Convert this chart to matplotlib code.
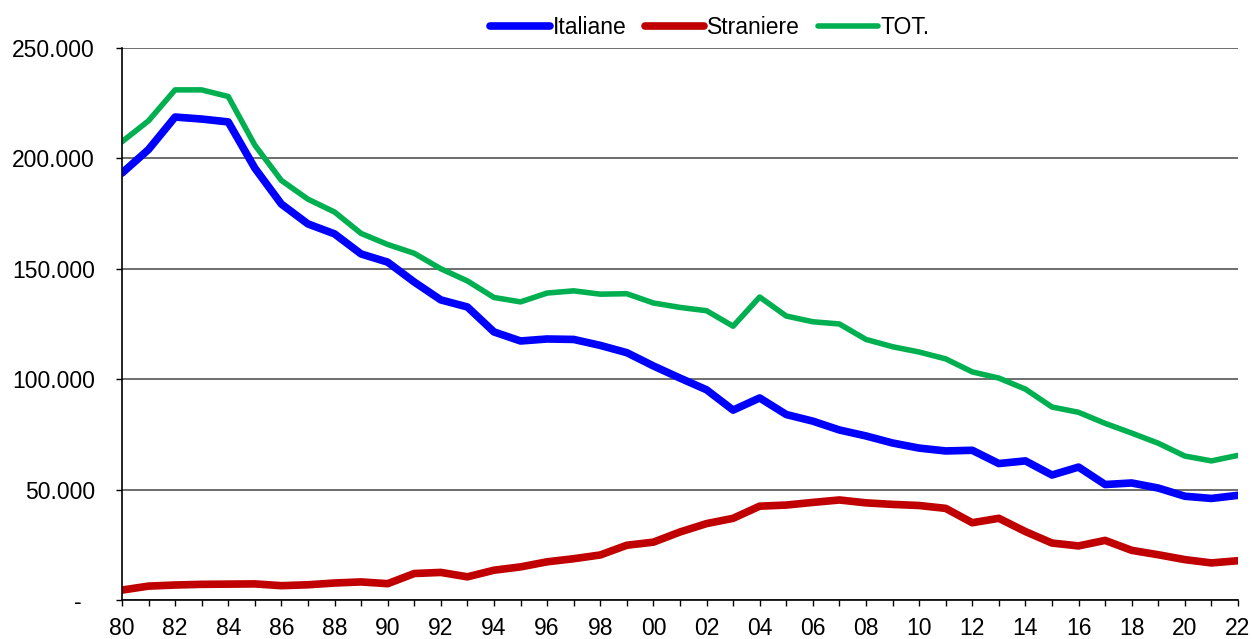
import matplotlib
matplotlib.use("Agg")
import matplotlib.pyplot as plt
from matplotlib.ticker import FuncFormatter, MultipleLocator

# years 1980..2022
years = list(range(1980, 2023))

italiane = [193300, 204000, 218700, 217800, 216500, 195600, 179300, 170300, 165800, 156700,
            153000, 144000, 135900, 132700, 121400, 117300, 118200, 118000, 115300, 112000,
            106000, 100500, 95200, 86000, 91500, 84000, 81000, 77000, 74300, 71100,
            68800, 67500, 67800, 61800, 63000, 56600, 60200, 52300, 53000, 50700,
            47000, 46000, 47400]

straniere = [4500, 6300, 6800, 7100, 7200, 7300, 6500, 6900, 7700, 8200,
             7400, 12000, 12500, 10500, 13500, 15000, 17300, 18700, 20400, 24800,
             26200, 30800, 34600, 37000, 42500, 43000, 44200, 45300, 44000, 43300,
             42800, 41500, 35000, 37000, 31000, 25800, 24500, 27000, 22500, 20500,
             18300, 16800, 17800]

totale = [207500, 217000, 231000, 231000, 228000, 206000, 190000, 181500, 175700, 166000,
          161000, 157000, 150000, 144500, 137000, 135000, 139000, 140000, 138500, 138700,
          134500, 132500, 131000, 124000, 137200, 128600, 126000, 125000, 118000, 114700,
          112300, 109200, 103300, 100500, 95500, 87400, 85000, 80000, 75600, 71000,
          65200, 63000, 65500]

plt.rcParams['font.family'] = ['Liberation Sans', 'DejaVu Sans']

fig = plt.figure(figsize=(12.52, 6.39), dpi=100, facecolor='white')
ax = fig.add_axes([0.0974, 0.061, 0.8914, 0.864])

ax.plot(years, italiane, color='#0000FF', linewidth=5.5, label='Italiane', solid_capstyle='round')
ax.plot(years, straniere, color='#C00000', linewidth=5.5, label='Straniere', solid_capstyle='round')
ax.plot(years, totale, color='#00B050', linewidth=4, label='TOT.', solid_capstyle='round')

ax.set_xlim(1980, 2022)
ax.set_ylim(0, 250000)

# y axis, Excel-style: dot as thousands separator, "-" for zero
ax.yaxis.set_major_locator(MultipleLocator(50000))
def fmt_y(v, pos):
    if v == 0:
        return '-  '
    return f'{int(v):,}'.replace(',', '.')
ax.yaxis.set_major_formatter(FuncFormatter(fmt_y))
ax.yaxis.grid(True, color='#555555', linewidth=1.2)
ax.set_axisbelow(True)

# x axis: ticks every year, labels every two years
ax.set_xticks(years)
ax.set_xticklabels([f'{y % 100:02d}' if y % 2 == 0 else '' for y in years])

ax.tick_params(axis='both', labelsize=16.5, colors='black', direction='out', length=4.5, width=1)
ax.tick_params(axis='y', pad=15)
ax.tick_params(axis='x', pad=8)

for s in ['top', 'right']:
    ax.spines[s].set_visible(False)
for s in ['left', 'bottom']:
    ax.spines[s].set_color('black')
    ax.spines[s].set_linewidth(1.2)

fig.legend(loc='center', bbox_to_anchor=(0.567, 0.957), ncol=3, frameon=False,
           fontsize=16.5, handlelength=2.6, handletextpad=0.12, columnspacing=0.8)

fig.savefig('out.png', dpi=100, facecolor='white')
